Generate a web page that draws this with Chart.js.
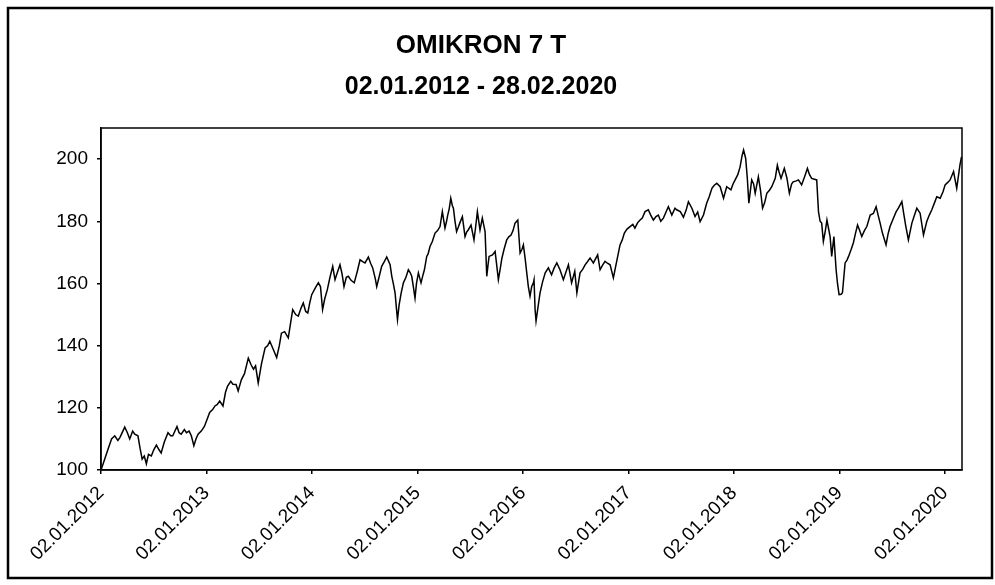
<!DOCTYPE html>
<html>
<head>
<meta charset="utf-8">
<script src="https://cdn.jsdelivr.net/npm/chart.js@4"></script>
<style>
  html, body { margin: 0; padding: 0; background: #fff; }
  #wrap { width: 995px; height: 585px; }
</style>
</head>
<body>
<div id="wrap"><canvas id="omikronChart" width="995" height="585"></canvas></div>
<script>
// Zeit in Jahren ab 02.01.2012, Indexwert (Start = 100)
const years = [
  // 2012
  0.00, 0.03, 0.06, 0.10, 0.13, 0.16, 0.18, 0.225, 0.25, 0.272, 0.30, 0.32, 0.35, 0.37, 0.39, 0.41,
  0.43, 0.45, 0.477, 0.50, 0.525, 0.55, 0.57, 0.60, 0.635, 0.66, 0.68, 0.72, 0.74, 0.76, 0.79, 0.81,
  0.835, 0.856, 0.88, 0.90, 0.92, 0.95, 0.98,
  // 2013
  1.03, 1.06, 1.08, 1.10, 1.125, 1.156, 1.18, 1.20, 1.23, 1.25, 1.28, 1.30, 1.33, 1.36, 1.396, 1.42,
  1.445, 1.465, 1.49, 1.52, 1.555, 1.58, 1.60, 1.63, 1.665, 1.69, 1.71, 1.74, 1.775, 1.80, 1.817, 1.845,
  1.87, 1.895, 1.917, 1.94, 1.96, 1.98,
  // 2014
  1.997, 2.03, 2.06, 2.08, 2.10, 2.12, 2.145, 2.17, 2.196, 2.218, 2.24, 2.265, 2.285, 2.303, 2.325, 2.344,
  2.37, 2.40, 2.43, 2.455, 2.48, 2.502, 2.534, 2.555, 2.575, 2.60, 2.613, 2.635, 2.66, 2.685, 2.708, 2.74,
  2.756, 2.77, 2.787, 2.80, 2.81, 2.825, 2.845, 2.866, 2.89, 2.913, 2.93, 2.945, 2.96, 2.976, 2.99,
  // 2015
  3.008, 3.033, 3.05, 3.065, 3.087, 3.10, 3.118, 3.14, 3.166, 3.19, 3.213, 3.235, 3.26, 3.275, 3.286, 3.30,
  3.315, 3.33, 3.34, 3.355, 3.37, 3.385, 3.40, 3.425, 3.45, 3.465, 3.48, 3.507, 3.535, 3.55, 3.567, 3.592,
  3.614, 3.64, 3.656, 3.668, 3.678, 3.71, 3.735, 3.75, 3.766, 3.785, 3.80, 3.82, 3.845, 3.865, 3.886, 3.905,
  3.924, 3.95, 3.972, 3.99,
  // 2016
  4.003, 4.02, 4.035, 4.05, 4.066, 4.082, 4.098, 4.104, 4.114, 4.123, 4.14, 4.161, 4.185, 4.21, 4.24, 4.27,
  4.295, 4.32, 4.35, 4.382, 4.405, 4.43, 4.46, 4.49, 4.51, 4.54, 4.565, 4.588, 4.61, 4.635, 4.666, 4.707,
  4.73, 4.755, 4.777, 4.80, 4.825, 4.856, 4.875, 4.894, 4.919, 4.94, 4.96, 4.985,
  // 2017
  5.014, 5.04, 5.06, 5.085, 5.109, 5.13, 5.156, 5.187, 5.21, 5.235, 5.26, 5.282, 5.305, 5.33, 5.355, 5.377,
  5.41, 5.44, 5.456, 5.49, 5.52, 5.545, 5.567, 5.60, 5.63, 5.655, 5.678, 5.71, 5.74, 5.765, 5.79, 5.81,
  5.836, 5.868, 5.90, 5.93, 5.97, 5.99,
  // 2018
  6.01, 6.035, 6.057, 6.075, 6.09, 6.11, 6.125, 6.14, 6.155, 6.167, 6.185, 6.20, 6.23, 6.25, 6.27, 6.29,
  6.31, 6.335, 6.357, 6.39, 6.41, 6.425, 6.445, 6.476, 6.50, 6.524, 6.545, 6.56, 6.59, 6.61, 6.64, 6.67,
  6.695, 6.715, 6.735, 6.783, 6.80, 6.815, 6.83, 6.846, 6.865, 6.88, 6.91, 6.925, 6.946, 6.967, 6.98, 6.995,
  // 2019
  7.015, 7.027, 7.052, 7.07, 7.085, 7.11, 7.13, 7.15, 7.17, 7.19, 7.21, 7.235, 7.258, 7.29, 7.32, 7.346,
  7.365, 7.384, 7.406, 7.44, 7.46, 7.478, 7.51, 7.535, 7.557, 7.59, 7.61, 7.628, 7.652, 7.685, 7.71, 7.732,
  7.763, 7.795, 7.826, 7.85, 7.874, 7.90, 7.921, 7.953, 7.98,
  // 2020
  8.00, 8.025, 8.047, 8.08, 8.11, 8.14, 8.155
];

const values = [
  // 2012
  100, 103, 106, 110, 111, 109.5, 110.5, 113.8, 112, 110, 112.5, 111.5, 111, 107, 103.5, 104.5,
  102, 105, 104.5, 106.5, 108, 106.5, 105.5, 109, 112, 111, 111, 114, 112, 111.5, 113, 112,
  112.5, 111, 107.8, 110, 111.5, 112.5, 114,
  // 2013
  118.5, 119.5, 120.6, 121, 122.2, 120.6, 125, 127, 128.5, 127.6, 127.5, 125.4, 129, 131, 136, 134,
  132.4, 133.5, 128, 134, 139.3, 140, 141.4, 139, 136.2, 140, 144, 144.5, 142.5, 148, 151.6, 150,
  149.5, 152, 153.7, 151, 150.5, 154,
  // 2014
  156.4, 158.5, 160.2, 159, 151.6, 155, 158, 162, 165.5, 161.2, 163.5, 166, 163, 159, 162, 162.3,
  161, 160.2, 164, 167.6, 167, 166.6, 168.5, 166.5, 165, 161.5, 159, 162, 165.5, 167, 168.5, 166,
  162.3, 160, 157, 152, 148.4, 153, 157, 160.2, 162, 164.4, 163.5, 162.3, 159, 155.3, 160,
  // 2015
  163.4, 160.2, 162.5, 164.4, 168.7, 169.5, 171.9, 173.5, 176.2, 177, 178.3, 183.1, 177.8, 180, 182, 184,
  187.4, 185, 184.2, 180, 176.7, 178, 179.4, 181.5, 175.1, 176.5, 177.2, 178.8, 174, 178, 183.1, 177.2,
  181, 176.7, 162.3, 166, 168.7, 169.2, 170.3, 166, 161.2, 165, 168.2, 171, 174, 175, 175.6, 177,
  179.4, 180.4, 169.8, 171,
  // 2016
  172.4, 168, 163.4, 159, 155.9, 159, 160.2, 161.2, 151.6, 147.9, 152, 157, 160.5, 163.4, 165, 162.8,
  165, 166.6, 164.4, 161.2, 163.5, 166, 160.2, 163.9, 157, 163.4, 164.5, 166, 167, 168.2, 166.6, 169.2,
  164.4, 166, 167.1, 166.5, 166, 161.8, 165, 168.2, 172.4, 174, 176.2, 177.5,
  // 2017
  178.3, 179, 177.8, 179.5, 180.4, 181, 183.1, 183.7, 182, 180.4, 181.5, 182, 180, 181, 183, 184.7,
  182, 184.2, 183.7, 183.1, 181.3, 183.5, 186.3, 184.2, 181.5, 183, 179.9, 182, 185.8, 188, 190.6, 191.5,
  192.2, 191.1, 187.4, 191.1, 190.1, 192,
  // 2018
  193.3, 195, 197.5, 201, 202.9, 200.2, 194, 185.8, 190, 193.3, 192, 189, 194.3, 190, 184.2, 186,
  189, 190, 191.1, 193.8, 198, 196, 193.8, 197, 194, 189, 192, 192.7, 193, 193.3, 191.7, 194.5,
  197, 195, 193.8, 193.3, 183.1, 180, 179.4, 173.5, 177, 180.4, 175.1, 168.7, 175.1, 164.4, 160, 156.4,
  // 2019
  156.5, 157, 166.6, 167.5, 168.7, 171, 173, 176, 178.8, 177, 175.1, 177, 178.3, 182, 182.5, 184.7,
  182, 179.4, 176.2, 172.4, 176, 178.3, 181, 183, 184.2, 186.3, 182, 178.3, 174, 179.4, 182, 184.2,
  182.6, 175.6, 179.9, 182, 183.7, 186, 187.9, 187.4, 189.5,
  // 2020
  191.7, 192.5, 193.3, 196, 190.6, 198, 200.7
];

const yTicks = [100, 120, 140, 160, 180, 200];
const xTickYears = [2012, 2013, 2014, 2015, 2016, 2017, 2018, 2019, 2020];

const chartTitle = 'OMIKRON 7 T';
const chartSubtitle = '02.01.2012 - 28.02.2020';

// Rahmen um Bild und Plotfläche
const framePlugin = {
  id: 'frames',
  afterDraw(chart) {
    const ctx = chart.ctx;
    const a = chart.chartArea;
    ctx.save();
    ctx.strokeStyle = '#000';
    ctx.lineWidth = 1.5;
    ctx.strokeRect(a.left, a.top, a.right - a.left, a.bottom - a.top);
    ctx.lineWidth = 2.5;
    ctx.strokeRect(8, 8, 984, 570);
    ctx.restore();
  }
};

const ctx = document.getElementById('omikronChart').getContext('2d');
const fontFamily = "'Liberation Sans', Arial, sans-serif";

new Chart(ctx, {
  type: 'line',
  data: {
    datasets: [{
      data: years.map((t, i) => ({ x: t, y: values[i] })),
      borderColor: '#000',
      borderWidth: 1.5,
      pointRadius: 0,
      tension: 0,
      fill: false
    }]
  },
  options: {
    responsive: false,
    animation: false,
    events: [],
    layout: { padding: { left: 0, right: 33, top: 0, bottom: 0 } },
    plugins: {
      legend: { display: false },
      tooltip: { enabled: false },
      title: {
        display: true,
        text: chartTitle,
        color: '#000',
        font: { family: fontFamily, size: 26, weight: 'bold', lineHeight: 1.2 },
        padding: { top: 30, bottom: 8 }
      },
      subtitle: {
        display: true,
        text: chartSubtitle,
        color: '#000',
        font: { family: fontFamily, size: 25, weight: 'bold', lineHeight: 1.2 },
        padding: { top: 3, bottom: 25.8 }
      }
    },
    scales: {
      x: {
        type: 'linear',
        min: 0,
        max: 8.16,
        afterFit: s => { s.height = 115; },
        afterBuildTicks: s => { s.ticks = xTickYears.map(y => ({ value: y - 2012 })); },
        border: { display: true, color: '#000', width: 1.5 },
        grid: { drawOnChartArea: false, drawTicks: true, tickLength: 4, color: '#000', lineWidth: 1.5 },
        ticks: {
          color: '#000',
          font: { family: fontFamily, size: 19 },
          minRotation: 45,
          maxRotation: 45,
          padding: 8,
          autoSkip: false,
          callback: v => '02.01.' + (2012 + Math.round(v))
        }
      },
      y: {
        min: 100,
        max: 210,
        afterFit: s => { s.width = 101; },
        afterBuildTicks: s => { s.ticks = yTicks.map(v => ({ value: v })); },
        border: { display: true, color: '#000', width: 1.5 },
        grid: { drawOnChartArea: false, drawTicks: true, tickLength: 4, color: '#000', lineWidth: 1.5 },
        ticks: {
          color: '#000',
          font: { family: fontFamily, size: 19 },
          padding: 9
        }
      }
    }
  },
  plugins: [framePlugin]
});
</script>
</body>
</html>
